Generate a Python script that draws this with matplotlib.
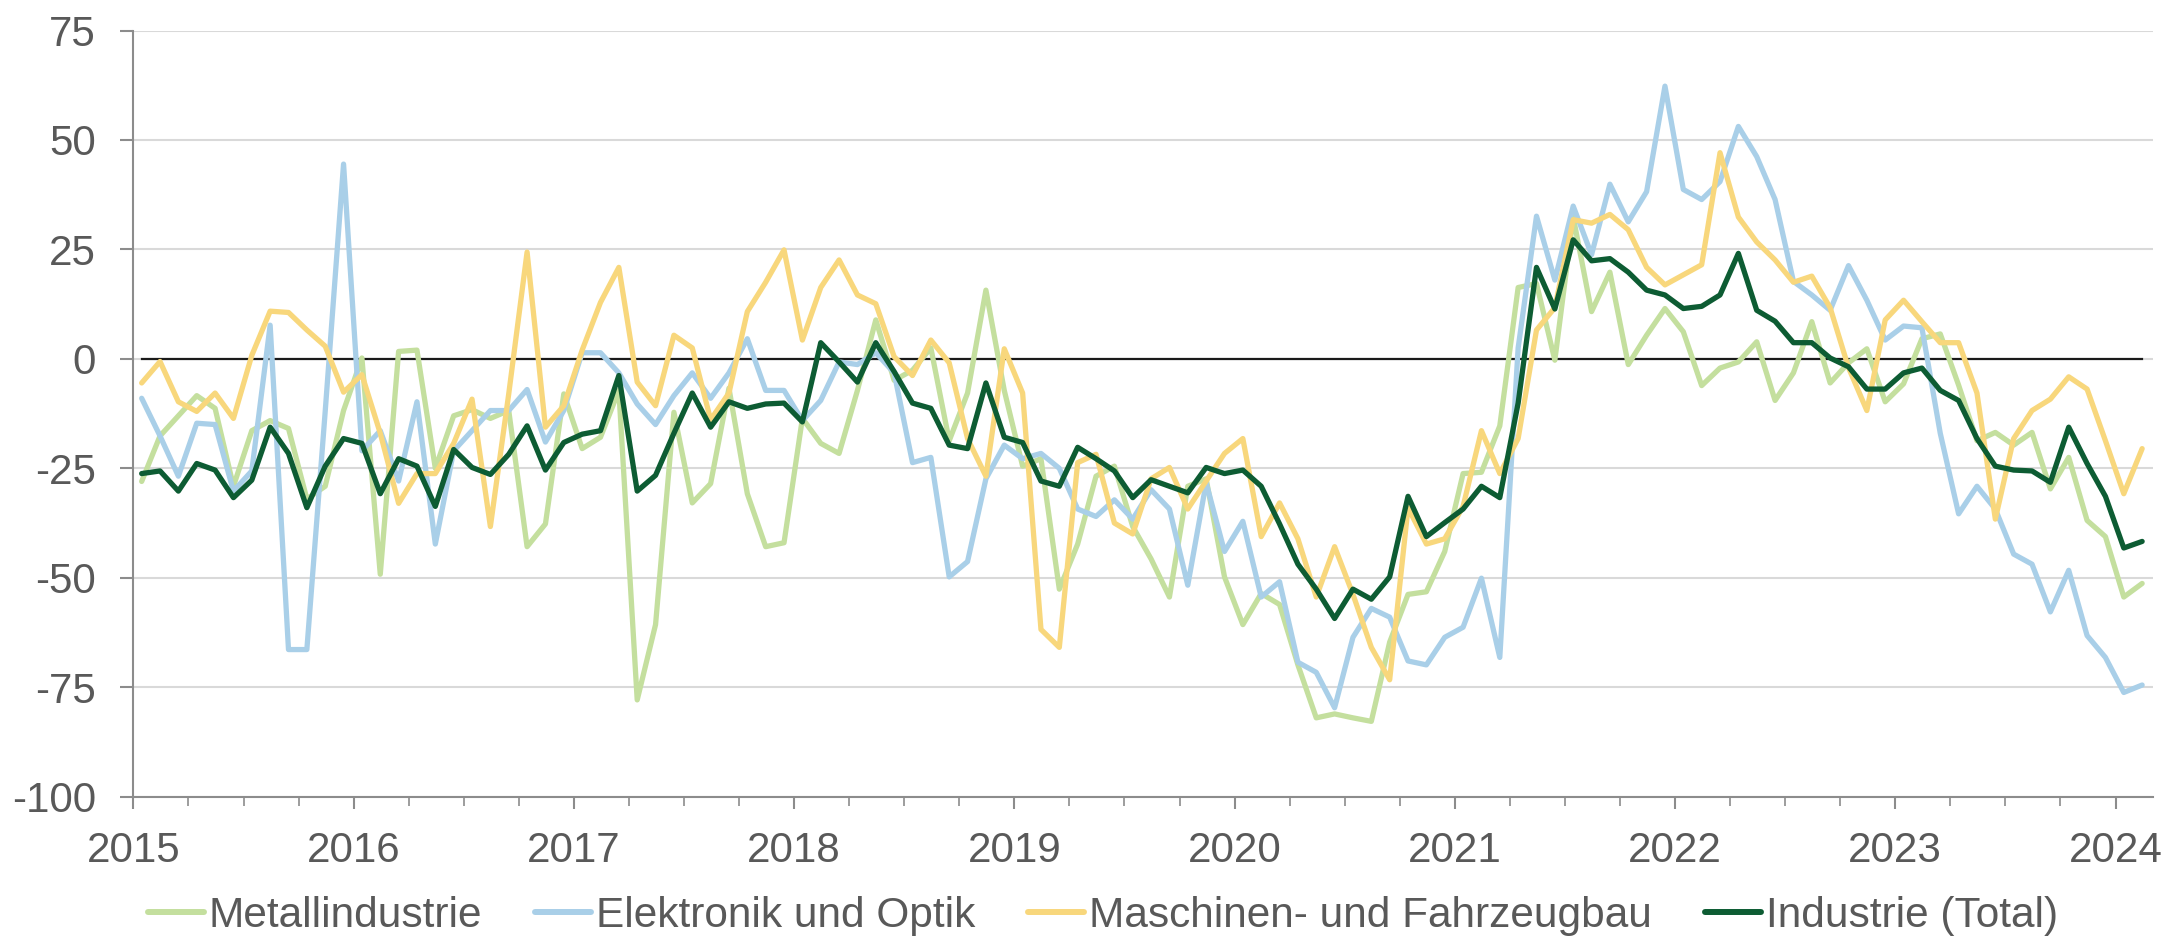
import matplotlib
matplotlib.use("Agg")
import matplotlib.pyplot as plt
import numpy as np

# ---------------- data (monthly, Jan 2015 .. Feb 2024) ----------------
start_year = 2015
series_names = ["Metallindustrie", "Elektronik und Optik",
                "Maschinen- und Fahrzeugbau", "Industrie (Total)"]

metall = [
    -28, -17.6, -13, -8.4, -11.3, -29.1, -16.4, -14.1, -15.9, -32, -29.1, -11.8,
    0.2, -49.2, 1.7, 2, -25, -13, -11.6, -13.6, -11.8, -42.9, -37.7, -8,
    -20.5, -17.9, -7.2, -77.9, -60.7, -12.2, -32.9, -28.5, -6.7, -30.8, -42.9, -42,
    -13.6, -19.3, -21.6, -7.2, 8.9, -4.9, -2.6, 2.5, -18.7, -7.8, 15.7, -7.2,
    -24.5, -22.8, -52.6, -42.3, -26.8, -24.5, -38.3, -45.7, -54.4, -29.1, -27.4, -49.8,
    -60.7, -53.6, -56.1, -69.9, -82, -81.1, -82, -82.8, -64.7, -53.8, -53.2, -44,
    -26.2, -25.9, -15.3, 16.3, 17.2, -0.3, 32.4, 10.8, 19.8, -1.3, 5.4, 11.5,
    6.2, -6.1, -2.1, -0.7, 3.9, -9.5, -3.2, 8.5, -5.5, -0.9, 2.3, -9.8,
    -5.7, 4.6, 5.7, -6, -18.7, -16.8, -19.7, -16.8, -29.7, -22.5, -36.9, -40.6,
    -54.4, -51.3,
]

elektronik = [
    -9, -17.6, -26.8, -14.7, -15, -30.2, -25.6, 7.7, -66.4, -66.4, -12, 44.5,
    -21, -16.4, -27.9, -9.8, -42.3, -21, -16.4, -11.8, -11.8, -7, -19, -11.8,
    1.4, 1.4, -3.2, -10.3, -15, -8.4, -3.2, -9, -3.2, 4.6, -7.2, -7.2,
    -14.1, -9.5, -0.7, -1.3, 1.4, -3.2, -23.7, -22.5, -49.8, -46.3, -27.4, -19.7,
    -22.8, -21.6, -25, -34.3, -36, -32.2, -36.6, -29.9, -34.3, -51.7, -28.3, -44,
    -37.1, -54.4, -50.9, -69.3, -71.6, -79.7, -63.6, -57, -59, -69, -69.9, -63.6,
    -61.3, -50.1, -68.2, 2.5, 32.6, 18, 34.9, 23.8, 39.9, 31.3, 38.2, 62.3,
    38.7, 36.4, 40.5, 53.1, 46.2, 36.4, 17.7, 14.6, 11.1, 21.3, 13.4, 4.3,
    7.5, 7.1, -17, -35.4, -29.1, -34.3, -44.6, -46.9, -57.8, -48.3, -63.2, -68.2,
    -76.2, -74.5,
]

maschinen = [
    -5.5, -0.6, -9.8, -12, -7.8, -13.6, 0.8, 10.9, 10.6, 6.6, 2.9, -7.6,
    -3.6, -17, -33, -26.2, -26.2, -19.3, -9.2, -38.3, -8, 24.4, -15.6, -10.7,
    2, 12.9, 20.9, -5.3, -10.7, 5.4, 2.5, -13.9, -7.8, 10.8, 17.5, 24.9,
    4.3, 16.3, 22.6, 14.6, 12.6, 0.5, -3.8, 4.3, -0.9, -18.2, -26.8, 2.3,
    -7.8, -61.8, -65.9, -23.7, -21.8, -37.5, -40, -27.4, -24.8, -34.3, -27.9, -21.6,
    -18.2, -40.6, -32.9, -41.1, -54.4, -42.9, -53.8, -65.9, -73.3, -34, -42.3, -41.1,
    -33.7, -16.4, -26.2, -18.2, 6.6, 11.7, 31.8, 31, 33, 29.5, 20.9, 16.9,
    19.2, 21.5, 47.1, 32.4, 26.7, 22.6, 17.5, 18.9, 11.7, -2, -11.8, 8.9,
    13.4, 8.5, 3.7, 3.7, -7.8, -36.6, -18.2, -11.8, -9.2, -4.1, -6.9, -18.7,
    -30.8, -20.5,
]

industrie = [
    -26.2, -25.6, -30.2, -23.9, -25.4, -31.7, -27.7, -15.6, -21.6, -34, -24.5, -18.2,
    -19.3, -30.8, -22.8, -24.5, -33.7, -20.7, -24.8, -26.4, -21.8, -15.3, -25.4, -19.1,
    -17.2, -16.4, -3.8, -30.2, -26.6, -17, -7.8, -15.6, -9.8, -11.3, -10.3, -10.1,
    -14.4, 3.7, -0.7, -5.3, 3.7, -2.9, -10.1, -11.3, -19.7, -20.5, -5.5, -17.9,
    -19.1, -27.9, -29.1, -20.2, -22.8, -25.6, -31.7, -27.6, -29.1, -30.6, -24.8, -26.2,
    -25.4, -29.1, -37.7, -46.9, -52.6, -59.3, -52.6, -54.9, -49.8, -31.4, -40.6, -37.4,
    -34.3, -29.1, -31.7, -10.1, 20.9, 11.4, 27.2, 22.4, 22.9, 19.8, 15.7, 14.6,
    11.5, 12, 14.6, 24.1, 11.1, 8.6, 3.7, 3.7, 0.2, -1.8, -6.9, -6.9,
    -3.2, -2.1, -7.2, -9.5, -18.2, -24.5, -25.4, -25.6, -28.2, -15.6, -23.9, -31.4,
    -43.2, -41.7,
]

year_ticks = list(range(2015, 2025))
y_ticks = [-100, -75, -50, -25, 0, 25, 50, 75]

colors = ["#c4df9e", "#a9cfe8", "#f8d77c", "#0d5c33"]

# ---------------- plot ----------------
plt.rcParams["font.family"] = ["Liberation Sans", "DejaVu Sans"]
text_color = "#595959"
axis_color = "#8c8c8c"

fig = plt.figure(figsize=(21.8, 9.4), dpi=100)
ax = fig.add_axes([0.0612, 0.1525, 0.9264, 0.8150])

n = len(industrie)
x = start_year + (np.arange(n) + 0.45) / 12.0

ax.plot(x, np.zeros(n), color="#1a1a1a", lw=1.6, zorder=2)

data = [metall, elektronik, maschinen, industrie]
widths = [3.8, 3.8, 3.8, 3.8]
for name, vals, c, w in zip(series_names, data, colors, widths):
    ax.plot(x, vals, color=c, lw=w, label=name, zorder=3,
            solid_joinstyle="round", solid_capstyle="round")

ax.set_xlim(2015, 2024.17)
ax.set_ylim(-100, 75)

ax.set_yticks(y_ticks, labels=[str(t) for t in y_ticks])
ax.set_xticks(year_ticks, labels=[str(t) for t in year_ticks])
ax.set_xticks(np.arange(2015, 2024.01, 0.25), minor=True)

ax.grid(axis="y", color="#d9d9d9", lw=1.5, zorder=0)
ax.set_axisbelow(True)

for s in ["top", "right"]:
    ax.spines[s].set_visible(False)
for s in ["left", "bottom"]:
    ax.spines[s].set_color(axis_color)
    ax.spines[s].set_linewidth(1.5)

ax.tick_params(axis="y", which="major", length=9.4, width=1.5, color=axis_color,
               labelsize=30.3, labelcolor=text_color, pad=17.5)
ax.tick_params(axis="x", which="major", length=8.6, width=1.5, color=axis_color,
               labelsize=30.3, labelcolor=text_color, pad=16)
ax.tick_params(axis="x", which="minor", length=6.5, width=1.2, color=axis_color)

leg = fig.legend(loc="center", bbox_to_anchor=(0.506, 0.026), ncol=4,
                 frameon=False, fontsize=30.5, handlelength=1.32,
                 handletextpad=0.12, columnspacing=1.25, borderaxespad=0)
for t in leg.get_texts():
    t.set_color(text_color)
for h in leg.get_lines():
    h.set_linewidth(4.3)

fig.savefig("out.png", dpi=100)
